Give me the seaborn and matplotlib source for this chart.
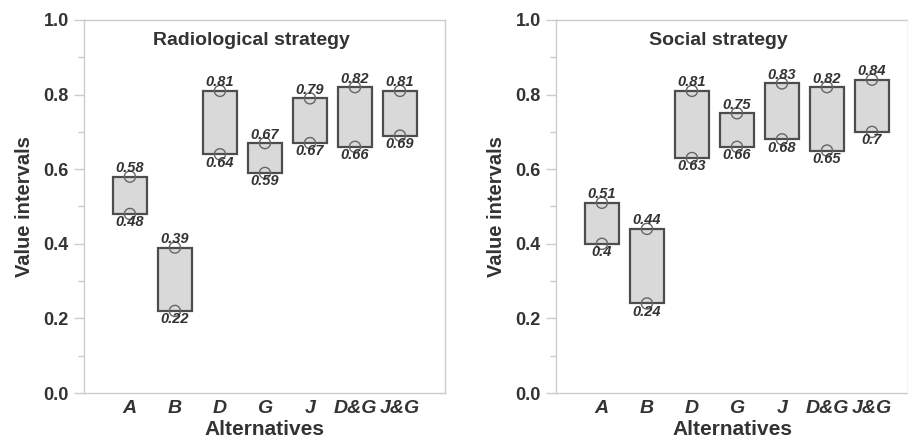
import matplotlib
matplotlib.use("Agg")
import matplotlib.pyplot as plt
import seaborn as sns
from matplotlib.ticker import MultipleLocator

# data
alternatives = ["A", "B", "D", "G", "J", "D&G", "J&G"]
radio_low = [0.48, 0.22, 0.64, 0.59, 0.67, 0.66, 0.69]
radio_high = [0.58, 0.39, 0.81, 0.67, 0.79, 0.82, 0.81]
social_low = [0.40, 0.24, 0.63, 0.66, 0.68, 0.65, 0.70]
social_high = [0.51, 0.44, 0.81, 0.75, 0.83, 0.82, 0.84]

sns.set_theme(style="ticks")
plt.rcParams["font.family"] = ["Liberation Sans", "DejaVu Sans"]

TEXT = "#333333"
EDGE = "#4d4d4d"
FILL = "#d9d9d9"
FRAME = "#cccccc"


def draw_panel(ax, lows, highs, title, title_x, xmax):
    heights = [h - l for l, h in zip(lows, highs)]
    ax.bar(alternatives, heights, bottom=lows, width=0.75, color=FILL,
           edgecolor=EDGE, linewidth=1.6, zorder=2)
    # hollow circles at the interval ends
    for vals in (lows, highs):
        sns.scatterplot(x=alternatives, y=vals, ax=ax, marker="o", s=64,
                        facecolor="none", edgecolor="#666666", linewidth=1.0,
                        zorder=3, legend=False)
    for i, (l, h) in enumerate(zip(lows, highs)):
        ax.annotate(f"{h:g}", (i, h), xytext=(0, 1), textcoords="offset points",
                    ha="center", va="bottom", fontsize=10.5, fontweight="bold",
                    fontstyle="italic", color=TEXT, zorder=4)
        ax.annotate(f"{l:g}", (i, l), xytext=(0, -1), textcoords="offset points",
                    ha="center", va="top", fontsize=10.5, fontweight="bold",
                    fontstyle="italic", color=TEXT, zorder=4)

    ax.text(title_x, 0.945, title, ha="center", va="center", fontsize=14,
            fontweight="bold", color=TEXT)

    ax.set_xlim(-1.02, xmax)
    ax.set_ylim(0, 1.0)
    ax.yaxis.set_major_locator(MultipleLocator(0.2))
    ax.yaxis.set_minor_locator(MultipleLocator(0.1))
    ax.set_yticks([0, 0.2, 0.4, 0.6, 0.8, 1.0])
    ax.set_yticklabels(["0.0", "0.2", "0.4", "0.6", "0.8", "1.0"])
    for lab in ax.get_yticklabels():
        lab.set_fontweight("bold")
    for lab in ax.get_xticklabels():
        lab.set_fontweight("bold")
        lab.set_fontstyle("italic")
    ax.tick_params(axis="y", which="major", length=7, width=1, color=FRAME,
                   labelsize=13, labelcolor=TEXT, pad=4)
    ax.tick_params(axis="y", which="minor", length=4, width=1, color=FRAME)
    ax.tick_params(axis="x", length=0, labelsize=14, labelcolor=TEXT, pad=5)
    for sp in ax.spines.values():
        sp.set_color(FRAME)
        sp.set_linewidth(1.0)
    ax.set_xlabel("Alternatives", fontsize=15, fontweight="bold", color=TEXT,
                  labelpad=2)
    ax.set_ylabel("Value intervals", fontsize=14.5, fontweight="bold",
                  color=TEXT, labelpad=7)


fig = plt.figure(figsize=(9.08, 4.42), dpi=100)
ax1 = fig.add_axes([84 / 908, 49 / 442, 361 / 908, 373 / 442])
ax2 = fig.add_axes([556 / 908, 49 / 442, 352 / 908, 373 / 442])

draw_panel(ax1, radio_low, radio_high, "Radiological strategy", 2.71, 7.0)
draw_panel(ax2, social_low, social_high, "Social strategy", 2.58, 6.80)

fig.savefig("out.png", dpi=100, facecolor="white")
